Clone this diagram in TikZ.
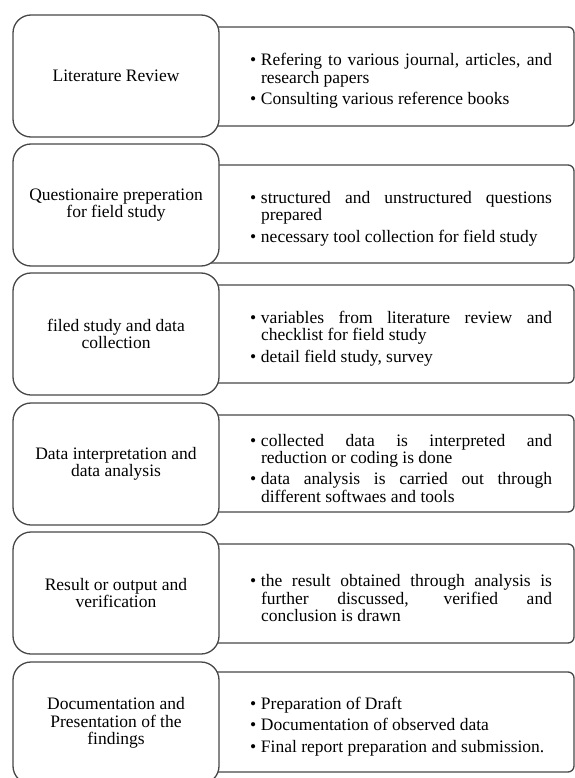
\documentclass[tikz,border=0pt]{standalone}
\usepackage{fontspec}
\setmainfont{Liberation Serif}
\hyphenpenalty=10000
\exhyphenpenalty=10000
\tolerance=9999
% one bulleted point of a note panel, with a hanging indent
\newcommand\notepoint[1]{\par\noindent\hangindent=11bp\hangafter=1\makebox[11bp][l]{\textbullet}#1\par}
\begin{document}
\begin{tikzpicture}[x=1bp,y=-1bp,
  stage/.style={draw=black!72, line width=1.3bp, fill=white, rounded corners=18bp,
    minimum width=206bp, minimum height=122bp, inner sep=0pt,
    align=center, font=\fontsize{17.5bp}{17.6bp}\selectfont},
  panel/.style={draw=black!72, line width=1.3bp, fill=white, rounded corners=6bp,
    inner sep=0pt, minimum width=374bp},
  notes/.style={text width=302bp, inner sep=0pt, align=justify,
    font=\fontsize{17.5bp}{17.3bp}\selectfont\setlength{\parskip}{4bp}}
]
\useasboundingbox (0,0) rectangle (575,778);
\clip (0,0) rectangle (575,778);

% note panels (their left parts sit behind the stage boxes)
\node[panel, minimum height=99bp]  (p1) at (387,76.5)  {};
\node[panel, minimum height=98bp]  (p2) at (387,214)   {};
\node[panel, minimum height=98bp]  (p3) at (387,334)   {};
\node[panel, minimum height=97bp]  (p4) at (387,463.5) {};
\node[panel, minimum height=99bp]  (p5) at (387,593.5) {};
\node[panel, minimum height=100bp] (p6) at (387,722)   {};

% stage boxes
\node[stage] (s1) at (116,76)  {Literature Review};
\node[stage] (s2) at (116,205) {Questionaire preperation\\for field study};
\node[stage] (s3) at (116,334) {filed study and data\\collection};
\node[stage] (s4) at (116,464) {Data interpretation and\\data analysis};
\node[stage] (s5) at (116,593) {Result or output and\\verification};
\node[stage] (s6) at (116,723) {Documentation and\\Presentation of the\\findings};

% panel texts
\node[notes] (n1) at (401,76.5) {%
  \notepoint{Refering to various journal, articles, and\linebreak research papers}%
  \notepoint{Consulting various reference books}};
\node[notes] (n2) at (401,214) {%
  \notepoint{structured and unstructured questions\linebreak prepared}%
  \notepoint{necessary tool collection for field study}};
\node[notes] (n3) at (401,334) {%
  \notepoint{variables from literature review and\linebreak checklist for field study}%
  \notepoint{detail field study, survey}};
\node[notes] (n4) at (401,463.5) {%
  \notepoint{collected data is interpreted and\linebreak reduction or coding is done}%
  \notepoint{data analysis is carried out through\linebreak different softwaes and tools}};
\node[notes] (n5) at (401,593.5) {%
  \notepoint{the result obtained through analysis is\linebreak further discussed, verified and\linebreak conclusion is drawn}};
\node[notes] (n6) at (401,722) {%
  \notepoint{Preparation of Draft}%
  \notepoint{Documentation of observed data}%
  \notepoint{Final report preparation and submission.}};
\end{tikzpicture}
\end{document}
